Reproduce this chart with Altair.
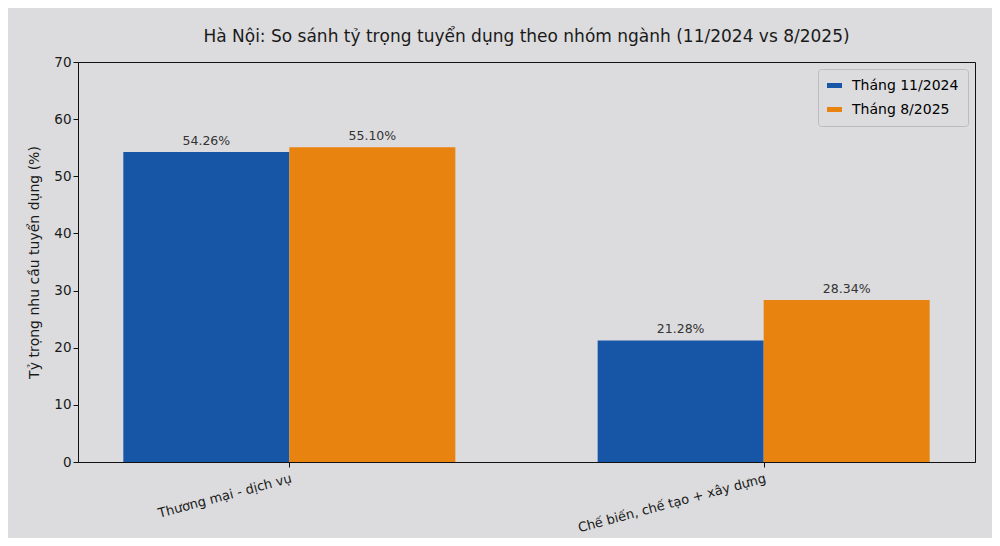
import json
import altair as alt
import pandas as pd

categories = ["Thương mại - dịch vụ", "Chế biến, chế tạo + xây dựng"]
series = ["Tháng 11/2024", "Tháng 8/2025"]
values_nov_2024 = [54.26, 21.28]
values_aug_2025 = [55.10, 28.34]
colors = ["#1755a6", "#e8830f"]

rows = []
for ci, cat in enumerate(categories):
    for si, (name, vals) in enumerate(zip(series, [values_nov_2024, values_aug_2025])):
        rows.append({"cat": cat, "ci": ci, "si": si, "series": name,
                     "value": vals[ci], "label": f"{vals[ci]:.2f}%"})
df = pd.DataFrame(rows)

BAR_W = 0.35
FONT = "DejaVu Sans"
BG = "#dcdcde"

base = alt.Chart(df).transform_calculate(
    x0=f"datum.ci + (datum.si - 1) * {BAR_W}",
    x1=f"datum.ci + datum.si * {BAR_W}",
    xc=f"datum.ci + (datum.si - 0.5) * {BAR_W}",
)

xscale = alt.Scale(domain=[-0.435, 1.435], nice=False, zero=False)
yscale = alt.Scale(domain=[0, 70], nice=False)

label_expr = f"{json.dumps(categories, ensure_ascii=False)}[datum.value]"

bars = base.mark_bar(strokeWidth=0, orient="vertical").encode(
    x=alt.X("x0:Q", scale=xscale,
            axis=alt.Axis(values=[0, 1], labelExpr=label_expr, title=None,
                          labelAngle=345, labelAlign="right", labelBaseline="top",
                          labelFontSize=13, labelPadding=5, labelLimit=0)),
    x2="x1:Q",
    y=alt.Y("value:Q", scale=yscale,
            axis=alt.Axis(values=list(range(0, 71, 10)),
                          title="Tỷ trọng nhu cầu tuyển dụng (%)",
                          titleFontSize=14, titleFontWeight="normal",
                          titlePadding=12, labelFontSize=13.5)),
    y2=alt.datum(0),
    color=alt.Color("series:N",
                    scale=alt.Scale(domain=series, range=colors),
                    sort=series,
                    legend=alt.Legend(title=None, orient="top-right", offset=7,
                                      fillColor=BG, strokeColor="#bcbcbc",
                                      padding=9, cornerRadius=3,
                                      labelFontSize=14, labelFont=FONT,
                                      symbolType="M-1,-0.33L1,-0.33L1,0.33L-1,0.33Z",
                                      symbolSize=225, symbolStrokeWidth=0,
                                      symbolOpacity=1, rowPadding=9,
                                      labelOffset=10)),
)

texts = base.mark_text(baseline="bottom", dy=-4, fontSize=12.5,
                       font=FONT, color="#333333").encode(
    x=alt.X("xc:Q", scale=xscale),
    y=alt.Y("value:Q", scale=yscale),
    text="label:N",
)

chart = (bars + texts).properties(
    width=897,
    height=400,
    title=alt.TitleParams(
        "Hà Nội: So sánh tỷ trọng tuyển dụng theo nhóm ngành (11/2024 vs 8/2025)",
        fontSize=17, fontWeight="normal", font=FONT, color="#1a1a1a",
        anchor="middle", offset=9),
    autosize=alt.AutoSizeParams(type="none"),
    padding={"left": 70, "top": 54, "right": 17, "bottom": 76},
    background=BG,
).configure_view(
    stroke="#111111", strokeWidth=1, fill=BG
).configure_axis(
    grid=False, domainColor="#111111", tickColor="#111111",
    labelColor="#1a1a1a", titleColor="#1a1a1a",
    labelFont=FONT, titleFont=FONT, tickSize=5,
)

chart.save("out.html", embed_options={"renderer": "svg", "actions": False})
